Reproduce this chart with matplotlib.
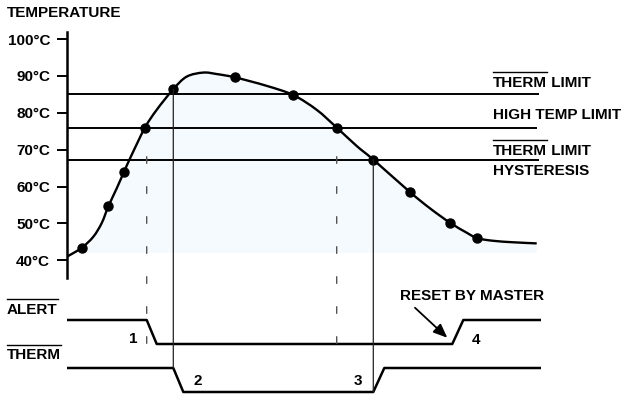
import matplotlib.pyplot as plt
from matplotlib.patches import ConnectionPatch, PathPatch
from matplotlib.lines import Line2D
from matplotlib.path import Path

W, H = 627, 396

plt.rcParams['font.family'] = ['Liberation Sans', 'DejaVu Sans']
plt.rcParams['font.weight'] = 'bold'
BOLD = dict(weight='bold', size=11)

# temperature trace (time in arbitrary units, degC)
curve_t = [0, 14.7, 26.3, 34.7, 41.3, 49.7, 57, 64.7, 78, 89.7, 106.3, 119.7,
           136.3, 149.7, 168, 199.7, 226.3, 249.7, 269.7, 289.7, 306.3, 343,
           363, 383, 399.7, 410.3, 426.3, 446.3, 469.7]
curve_temp = [41.0, 43.4, 46.4, 50.1, 54.6, 59.5, 64.0, 68.6, 76.0, 80.8, 86.4, 89.8,
              90.9, 90.5, 89.6, 87.3, 84.8, 80.8, 76.0, 71.0, 67.3, 58.5,
              54.1, 50.2, 47.5, 46.0, 45.3, 44.9, 44.6]

# conversions read by the host
sample_t = [14.7, 41.3, 57, 78, 106.3, 168, 226.3, 269.7, 306.3, 343, 383, 410.3]
sample_temp = [43.4, 54.6, 64.0, 76.0, 86.4, 89.6, 84.8, 76.0, 67.3, 58.5, 50.2, 46.0]

therm_limit = 85
high_temp_limit = 76
therm_hyst = 67.3

y_ticks = [40, 50, 60, 70, 80, 90, 100]
y_labels = ['40°C', '50°C', '60°C', '70°C', '80°C', '90°C', '100°C']

# open-drain outputs: 1 = released (high), 0 = asserted (low)
alert_t = [0, 79.7, 89.7, 385.3, 396.3, 473.7]
alert_state = [1, 1, 0, 0, 1, 1]
therm_t = [0, 106.3, 116.3, 306.3, 317.3, 473.7]
therm_state = [1, 1, 0, 0, 1, 1]


def smooth_path(xs, ys):
    # Catmull-Rom through the points, as cubic Bezier segments
    verts = [(xs[0], ys[0])]
    codes = [Path.MOVETO]
    n = len(xs)
    for i in range(n - 1):
        x0, y0 = (xs[i - 1], ys[i - 1]) if i > 0 else (xs[i], ys[i])
        x1, y1 = xs[i], ys[i]
        x2, y2 = xs[i + 1], ys[i + 1]
        x3, y3 = (xs[i + 2], ys[i + 2]) if i + 2 < n else (x2, y2)
        verts += [(x1 + (x2 - x0) / 6, y1 + (y2 - y0) / 6),
                  (x2 - (x3 - x1) / 6, y2 - (y3 - y1) / 6),
                  (x2, y2)]
        codes += [Path.CURVE4] * 3
    return verts, codes


fig = plt.figure(figsize=(W / 100, H / 100), dpi=100)
ax = fig.add_axes([67 / W, 1 - 277.7 / H, 474 / W, 246 / H])
ax2 = fig.add_axes([67 / W, 0, 474 / W, 100 / H], sharex=ax)

ax.set_xlim(0, 474)
ax.set_ylim(35.3, 101.98)
for s in ['top', 'right', 'bottom']:
    ax.spines[s].set_visible(False)
ax.spines['left'].set_linewidth(1.8)
ax.set_xticks([])
ax.set_yticks(y_ticks)
ax.set_yticklabels(y_labels, fontdict=BOLD)
ax.tick_params(axis='y', length=7.2, width=1.4, pad=5)
ax.patch.set_visible(False)

verts, codes = smooth_path(curve_t, curve_temp)

# shaded area under the trace
fill_verts = verts + [(curve_t[-1], 42), (curve_t[0], 42), verts[0]]
fill_codes = codes + [Path.LINETO, Path.LINETO, Path.CLOSEPOLY]
ax.add_patch(PathPatch(Path(fill_verts, fill_codes), facecolor='#f4fafd',
                       edgecolor='none', zorder=0))

ax.hlines([therm_limit, high_temp_limit, therm_hyst], 0, [472, 470, 472],
          color='black', lw=1.4, zorder=2)
ax.add_patch(PathPatch(Path(verts, codes), facecolor='none', edgecolor='black',
                       lw=1.7, zorder=3))
ax.plot(sample_t, sample_temp, 'o', color='black', ms=6.5, zorder=4)

ax2.set_ylim(-0.1667, 4.0)
ax2.axis('off')
ax2.plot(alert_t, [s + 2 for s in alert_state], color='black', lw=1.8)
ax2.plot(therm_t, therm_state, color='black', lw=1.8)

# event markers linking temperature crossings to the outputs
events = [
    (alert_t[1], 68.1, alert_state[2] + 2, 'dashed'),
    (therm_t[1], sample_temp[4], therm_state[0], 'solid'),
    (sample_t[7], 68.1, alert_state[2] + 2, 'dashed'),
    (therm_t[3], therm_hyst, therm_state[2], 'solid'),
]
for t, temp, lvl, style in events:
    if style == 'dashed':
        con = ConnectionPatch(xyA=(t, temp), coordsA=ax.transData,
                              xyB=(t, lvl), coordsB=ax2.transData,
                              color='#555555', lw=1.0,
                              linestyle=(0, (4.8, 16.8)))
    else:
        con = ConnectionPatch(xyA=(t, temp), coordsA=ax.transData,
                              xyB=(t, lvl), coordsB=ax2.transData,
                              color='#222222', lw=0.9)
    con.set_zorder(1)
    fig.add_artist(con)

ax2.text(66.3, 2.03, '1', ha='center', va='baseline', fontdict=BOLD)
ax2.text(409, 2.0, '4', ha='center', va='baseline', fontdict=BOLD)
ax2.text(131, 0.30, '2', ha='center', va='baseline', fontdict=BOLD)
ax2.text(291, 0.30, '3', ha='center', va='baseline', fontdict=BOLD)
ax2.text(404.8, 3.83, 'RESET BY MASTER', ha='center', va='baseline', fontdict=BOLD)
ax2.annotate('', xy=(380.3, 2.26), xytext=(348, 3.51),
             arrowprops=dict(arrowstyle='-|>,head_length=0.6,head_width=0.25',
                             mutation_scale=14, lw=1.3, color='black',
                             shrinkA=0, shrinkB=0))


def ftext(x, y, s):
    return fig.text(x / W, 1 - y / H, s, ha='left', va='baseline', fontdict=BOLD)


ftext(7, 17.3, 'TEMPERATURE')
over = []
t1 = ftext(493, 86.7, 'THERM')
over.append((t1, 86.7))
ftext(493, 119.3, 'HIGH TEMP LIMIT')
t2 = ftext(493, 155, 'THERM')
over.append((t2, 155))
ftext(493, 175, 'HYSTERESIS')
t3 = ftext(7, 314, 'ALERT')
over.append((t3, 314))
t4 = ftext(7, 359.3, 'THERM')
over.append((t4, 359.3))

# overbars for the active-low signal names
fig.canvas.draw()
for t, base in over:
    bb = t.get_window_extent()
    if t in (t1, t2):
        fig.text(bb.x1 / W, 1 - base / H, ' LIMIT', ha='left', va='baseline',
                 fontdict=BOLD)
    y = 1 - (base - 14.7) / H
    fig.add_artist(Line2D([bb.x0 / W, bb.x1 / W], [y, y],
                          transform=fig.transFigure, color='black', lw=1.0))

fig.savefig('out.png', dpi=100)
